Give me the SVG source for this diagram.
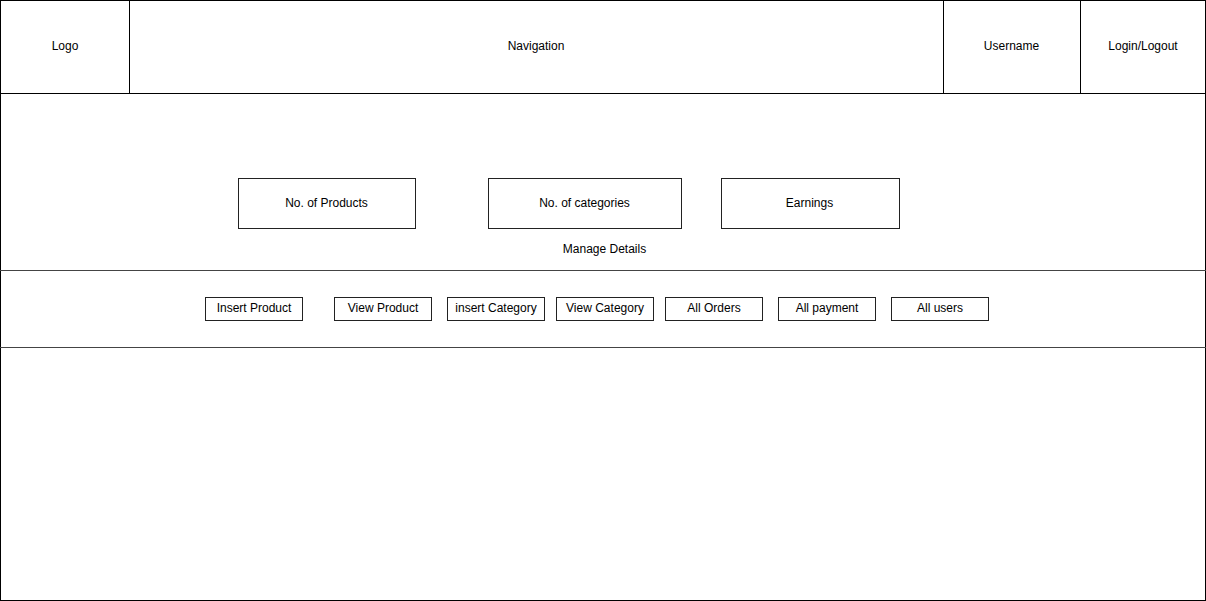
<svg xmlns="http://www.w3.org/2000/svg" width="1206" height="601" viewBox="0 0 1206 601">
<style>
.frame{fill:#fff;stroke:#000;stroke-width:1}
.sec{fill:none;stroke:#444;stroke-width:1}
.box{fill:#fff;stroke:#222;stroke-width:1}
text{font-family:"Liberation Sans",Arial,Helvetica,sans-serif;font-size:12px;fill:#000;text-anchor:middle;dominant-baseline:central}
</style>
<rect x="0" y="0" width="1206" height="601" fill="#fff"/>
<g id="page"><rect class="frame" x="0.5" y="0.5" width="1205" height="600"/></g>
<g id="header">
<line x1="0" y1="93.5" x2="1206" y2="93.5" stroke="#000"/>
</g>
<g id="logo"><line x1="129.5" y1="0" x2="129.5" y2="93.5" stroke="#000"/><text x="65" y="46">Logo</text></g>
<g id="navigation"><text x="536" y="46">Navigation</text></g>
<g id="username"><line x1="943.5" y1="0" x2="943.5" y2="93.5" stroke="#000"/><text x="1011.5" y="46">Username</text></g>
<g id="login"><line x1="1080.5" y1="0" x2="1080.5" y2="93.5" stroke="#000"/><text x="1143" y="46">Login/Logout</text></g>
<g id="sections">
<line class="sec" x1="0" y1="270.5" x2="1206" y2="270.5"/>
<line class="sec" x1="0" y1="347.5" x2="1206" y2="347.5"/>
</g>
<g id="products"><rect class="box" x="238.5" y="178.5" width="177" height="50"/><text x="326.5" y="203">No. of Products</text></g>
<g id="categories"><rect class="box" x="488.5" y="178.5" width="193" height="50"/><text x="584.5" y="203">No. of categories</text></g>
<g id="earnings"><rect class="box" x="721.5" y="178.5" width="178" height="50"/><text x="809.5" y="203">Earnings</text></g>
<g id="manage"><text x="604.5" y="249">Manage Details</text></g>
<g id="btn-insert-product"><rect class="box" x="205.5" y="297.5" width="97" height="23"/><text x="254" y="308">Insert Product</text></g>
<g id="btn-view-product"><rect class="box" x="334.5" y="297.5" width="97" height="23"/><text x="383" y="308">View Product</text></g>
<g id="btn-insert-category"><rect class="box" x="447.5" y="297.5" width="97" height="23"/><text x="496" y="308">insert Category</text></g>
<g id="btn-view-category"><rect class="box" x="556.5" y="297.5" width="97" height="23"/><text x="605" y="308">View Category</text></g>
<g id="btn-all-orders"><rect class="box" x="665.5" y="297.5" width="97" height="23"/><text x="714" y="308">All Orders</text></g>
<g id="btn-all-payment"><rect class="box" x="778.5" y="297.5" width="97" height="23"/><text x="827" y="308">All payment</text></g>
<g id="btn-all-users"><rect class="box" x="891.5" y="297.5" width="97" height="23"/><text x="940" y="308">All users</text></g>
<g id="connectors"></g>
</svg>
